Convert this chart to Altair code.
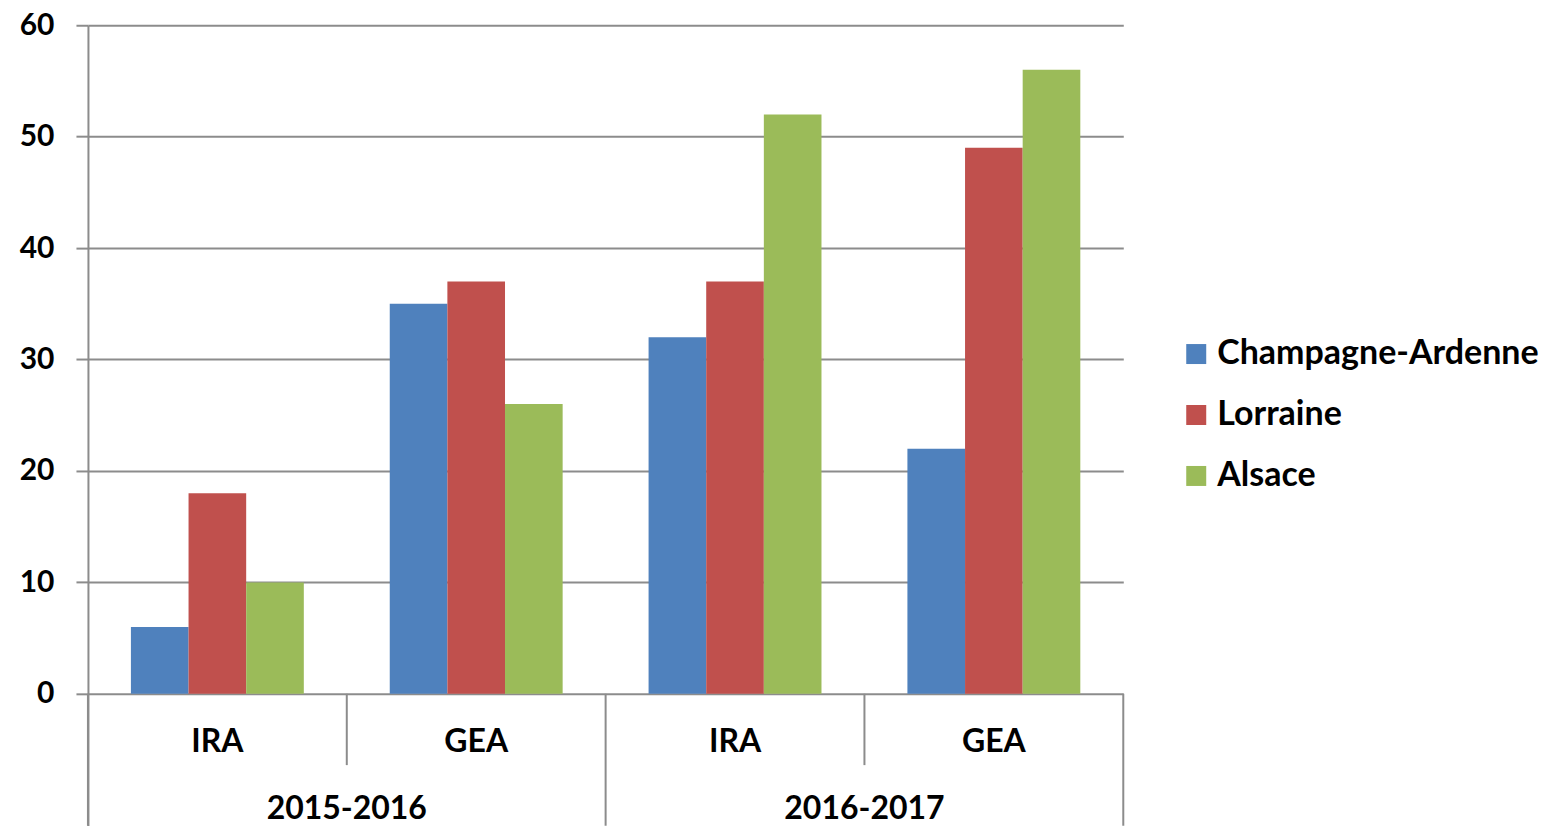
import altair as alt
import pandas as pd

years = ["2015-2016", "2015-2016", "2016-2017", "2016-2017"]
programs = ["IRA", "GEA", "IRA", "GEA"]
series = ["Champagne-Ardenne", "Lorraine", "Alsace"]
colors = ["#4F81BD", "#C0504D", "#9BBB59"]
champagne = [6, 35, 32, 22]
lorraine = [18, 37, 37, 49]
alsace = [10, 26, 52, 56]
y_ticks = [0, 10, 20, 30, 40, 50, 60]
year_labels = ["2015-2016", "2016-2017"]

FONT = "Lato"
GRID = "#8c8c8c"
YMIN = -11.84

keys = [f"{p} {y}" for p, y in zip(programs, years)]
rows = []
for s, vals in zip(series, [champagne, lorraine, alsace]):
    for k, v in zip(keys, vals):
        rows.append({"group": k, "series": s, "value": v})
df = pd.DataFrame(rows)

bars = alt.Chart(df).mark_bar().encode(
    x=alt.X("group:N", sort=keys, axis=None,
            scale=alt.Scale(paddingInner=0.332, paddingOuter=0.166)),
    xOffset=alt.XOffset("series:N", sort=series, scale=alt.Scale(paddingInner=0, paddingOuter=0)),
    y=alt.Y("value:Q",
            scale=alt.Scale(domain=[YMIN, 60], nice=False, zero=False),
            axis=alt.Axis(values=y_ticks, title=None, grid=True, gridColor=GRID, gridWidth=2,
                          gridOpacity=1, domainColor=GRID, domainWidth=2, tickColor=GRID,
                          tickWidth=2, tickSize=12, labelFont=FONT, labelFontSize=30,
                          labelFontWeight="bold", labelColor="black", labelPadding=22)),
    y2=alt.datum(0),
    color=alt.Color("series:N", sort=series,
                    scale=alt.Scale(domain=series, range=colors),
                    legend=alt.Legend(title=None, orient="none", legendX=1092, legendY=312,
                                      symbolType="square", symbolSize=400, symbolStrokeWidth=0,
                                      labelFont=FONT, labelFontSize=34, labelFontWeight="bold",
                                      labelColor="black", labelOffset=4, rowPadding=27,
                                      labelLimit=0)),
)

# hierarchical category axis
n = len(keys)
sep_df = pd.DataFrame({
    "pos": list(range(n + 1)),
    "bottom": [YMIN if (i % 2 == 0) else -6.4 for i in range(n + 1)],
    "top": [0] * (n + 1),
})
xq = alt.Scale(domain=[0, n], nice=False, zero=False)
seps = alt.Chart(sep_df).mark_rule(color=GRID, strokeWidth=2).encode(
    x=alt.X("pos:Q", scale=xq, axis=None),
    y=alt.Y("top:Q"),
    y2="bottom:Q",
)

lab_df = pd.DataFrame({"pos": [i + 0.5 for i in range(n)], "label": programs, "yv": [-4.3] * n})
labs = alt.Chart(lab_df).mark_text(font=FONT, fontSize=32, fontWeight="bold", color="black",
                                   baseline="middle").encode(
    x=alt.X("pos:Q", scale=xq, axis=None), y="yv:Q", text="label:N")

yr_df = pd.DataFrame({"pos": [1, 3], "label": year_labels, "yv": [-10.35, -10.35]})
yrs = alt.Chart(yr_df).mark_text(font=FONT, fontSize=32, fontWeight="bold", color="black",
                                 baseline="middle").encode(
    x=alt.X("pos:Q", scale=xq, axis=None), y="yv:Q", text="label:N")

chart = alt.layer(bars, seps, labs, yrs).resolve_scale(x="independent").properties(
    width=1036, height=801,
    padding={"left": 80, "top": 17, "right": 430, "bottom": 0},
    autosize=alt.AutoSizeParams(type="none"),
).configure_view(stroke=None)

chart.save("out.html", embed_options={"renderer": "svg", "actions": False})
